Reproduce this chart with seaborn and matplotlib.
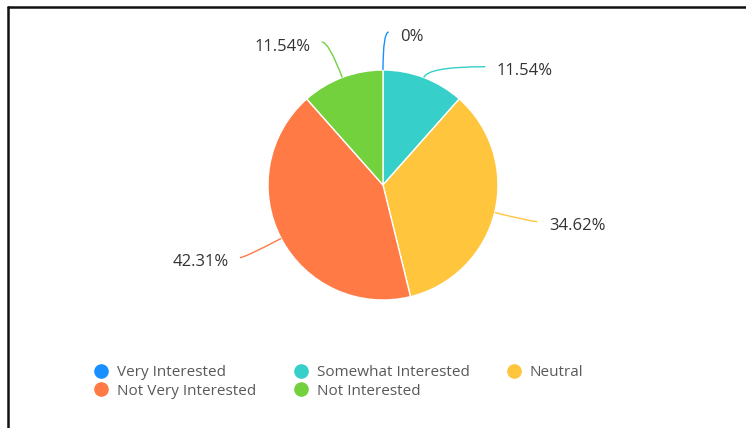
import numpy as np
import matplotlib
matplotlib.use("Agg")
import matplotlib.pyplot as plt
from matplotlib.path import Path
from matplotlib.patches import PathPatch
from matplotlib.lines import Line2D
import seaborn as sns

# ---- data ----
categories = ["Very Interested", "Somewhat Interested", "Neutral",
              "Not Very Interested", "Not Interested"]
values = [0.0, 11.54, 34.62, 42.31, 11.54]
value_labels = ["0%", "11.54%", "34.62%", "42.31%", "11.54%"]
colors_hex = ["#1890FF", "#36CFC9", "#FFC53D", "#FF7A45", "#73D13D"]

sns.set_theme(style="white")
plt.rcParams["font.family"] = ["Open Sans", "DejaVu Sans"]
palette = sns.color_palette(colors_hex)

W, H = 746, 428
fig = plt.figure(figsize=(W / 100, H / 100), dpi=100)
fig.patch.set_facecolor("white")

# axes placed so pie center at (383,185) px with radius 115 px
R = 115.0
cx, cy = 383.0, 185.0
a = 1.6
side = 2 * a * R
ax = fig.add_axes([(cx - side / 2) / W, (H - cy - side / 2) / H, side / W, side / H])

wedges, _ = ax.pie(values, colors=palette, startangle=90, counterclock=False,
                   wedgeprops=dict(edgecolor="white", linewidth=1.0),
                   radius=1.0)
ax.set_xlim(-a, a)
ax.set_ylim(-a, a)
ax.set_aspect("equal")
ax.axis("off")

# leader line styling per label (first radial length, second horizontal length)
len1 = [0.33, 0.10, 0.33, 0.36, 0.33]
len2 = [0.05, 0.50, 0.05, 0.04, 0.06]
for w, lab, col, l1, l2 in zip(wedges, value_labels, palette, len1, len2):
    mid = np.deg2rad((w.theta1 + w.theta2) / 2)
    dx, dy = np.cos(mid), np.sin(mid)
    p0 = np.array([dx, dy])
    p1 = p0 * (1 + l1)
    side_sign = 1 if dx >= -1e-9 else -1
    p2 = p1 + np.array([side_sign * l2, 0])
    path = Path([p0, p1, p2], [Path.MOVETO, Path.CURVE3, Path.CURVE3])
    ax.add_patch(PathPatch(path, facecolor="none", edgecolor=col, lw=1.0,
                           clip_on=False))
    ax.text(p2[0] + side_sign * 0.1, p2[1] - 0.04, lab,
            ha="left" if side_sign > 0 else "right", va="center",
            fontsize=12, color="#333333", clip_on=False)

# legend (row-wise order in 3 columns)
order = [0, 3, 1, 4, 2]
handles = [Line2D([], [], marker="o", linestyle="none", markersize=9.5,
                  markerfacecolor=palette[i], markeredgecolor=palette[i])
           for i in order]
fig.legend(handles, [categories[i] for i in order], ncol=3,
           loc="upper left", bbox_to_anchor=(95 / W, 1 - 365 / H),
           frameon=False, fontsize=11, labelcolor="#595959",
           handlelength=0.8, handletextpad=0.65, columnspacing=2.5,
           labelspacing=0.23, borderpad=0, borderaxespad=0)

# frame lines (top and left)
fig.add_artist(Line2D([8 / W, 1], [1 - 6.5 / H, 1 - 6.5 / H],
                      transform=fig.transFigure, color="#111111", lw=1.8))
fig.add_artist(Line2D([8 / W, 8 / W], [0, 1 - 6.5 / H],
                      transform=fig.transFigure, color="#111111", lw=1.8))

fig.savefig("out.png", dpi=100, facecolor="white")
